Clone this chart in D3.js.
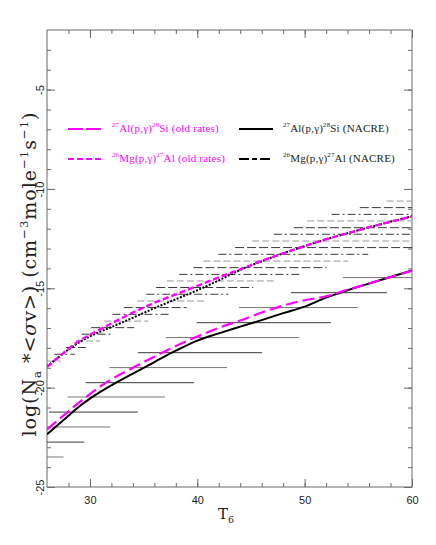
<!DOCTYPE html>
<html>
<head>
<meta charset="utf-8">
<script src="https://cdn.jsdelivr.net/npm/d3@7"></script>
<style>
	body { margin: 0; background: #fff; }
	svg { display: block; }
</style>
</head>
<body>
<div id="chartDiv"></div>
<script>

// temperature grid (T6) shared by the four rate curves
var temps = [26, 27, 28, 29, 30, 32, 34, 36, 38, 40, 42, 44, 46, 48, 50, 52, 54, 56, 58, 60];

// log rates
var alOld   = [-22.10, -21.65, -21.19, -20.74, -20.32, -19.58, -19.00, -18.44, -17.91, -17.43, -16.99, -16.62, -16.22, -15.87, -15.60, -15.40, -15.07, -14.76, -14.43, -14.12];
var alNacre = [-22.35, -21.88, -21.41, -20.95, -20.55, -19.88, -19.29, -18.71, -18.14, -17.63, -17.27, -16.93, -16.60, -16.25, -15.92, -15.47, -15.10, -14.76, -14.43, -14.10];
var mgOld   = [-18.96, -18.50, -18.05, -17.64, -17.34, -16.77, -16.22, -15.73, -15.30, -14.88, -14.45, -14.05, -13.62, -13.24, -12.88, -12.53, -12.23, -11.93, -11.65, -11.38];
var mgNacre = [-18.93, -18.50, -18.08, -17.72, -17.42, -16.95, -16.48, -16.00, -15.55, -15.10, -14.60, -14.08, -13.64, -13.24, -12.88, -12.53, -12.23, -11.93, -11.65, -11.38];

// horizontal uncertainty bars, 27Al(p,g) (solid)
var alBarLog = [-23.49, -22.74, -21.98, -21.23, -20.47, -19.75, -18.99, -18.24, -17.48, -16.73, -15.97, -15.22, -14.46];
var alBarLo  = [26.00, 26.00, 26.00, 26.20, 27.92, 29.60, 31.82, 34.47, 37.07, 39.95, 43.89, 48.73, 53.56];
var alBarHi  = [27.54, 29.47, 31.88, 34.46, 36.99, 39.70, 42.77, 46.03, 49.47, 52.45, 54.96, 57.66, 60.00];

// horizontal uncertainty bars, 26Mg(p,g) (dashed)
var mgBarLog = [-10.61, -10.94, -11.28, -11.61, -11.95, -12.28, -12.62, -12.95, -13.29, -13.63, -13.96, -14.30, -14.63,
                -14.96, -15.30, -15.64, -15.97, -16.31, -16.65, -16.98, -17.31, -17.65, -17.98, -18.32, -18.66];
var mgBarLo  = [57.63, 55.14, 52.51, 50.24, 49.00, 47.14, 45.13, 43.52, 41.96, 40.57, 39.64, 38.33, 37.16,
                36.17, 35.24, 34.40, 33.14, 32.10, 31.33, 30.12, 29.22, 28.70, 27.77, 26.68, 26.00];
var mgBarHi  = [60.00, 60.00, 60.00, 60.00, 60.00, 60.00, 60.00, 60.00, 55.92, 54.06, 52.05, 49.72, 47.40,
                45.22, 42.89, 40.73, 39.02, 37.38, 35.42, 34.12, 32.20, 30.96, 29.63, 28.60, 27.30];

// axes
var xDomain = [26, 60];
var yDomain = [-25, -2];
var xMajor = [30, 40, 50, 60];
var xMinor = d3.range(28, 60, 2);
var yMajor = [-25, -20, -15, -10, -5];
var yMinor = d3.range(-24, -2, 1);

;(function() {

	var margin = { top: 30, right: 24, bottom: 58, left: 47 };
	var width = 436;
	var height = 545;
	var magenta = "#ff00ff";

	var chart;
	var chartWidth;
	var chartHeight;

	init();

	function init() {
		chartWidth = width - margin.left - margin.right;
		chartHeight = height - margin.top - margin.bottom;

		initializeChart();
		createAxes();
		drawBars();
		drawCurves();
		drawLegend();
	}

	function initializeChart() {
		chart = d3.select("#chartDiv").append("svg")
			.attr("width", width)
			.attr("height", height);

		chart.append("defs").append("clipPath")
			.attr("id", "plotClip")
			.append("rect")
			.attr("width", chartWidth)
			.attr("height", chartHeight);

		chart.plotArea = chart.append("g")
			.attr("transform", "translate(" + margin.left + "," + margin.top + ")");

		chart.xScale = d3.scaleLinear().domain(xDomain).range([0, chartWidth]);
		chart.yScale = d3.scaleLinear().domain(yDomain).range([chartHeight, 0]);
	}

	// super/subscript helper, shifts with dy and then comes back
	function richText(sel, parts, size) {
		var shift = 0;
		parts.forEach(function(p) {
			var target = p[1] === "sup" ? -size * 0.42 : (p[1] === "sub" ? size * 0.28 : 0);
			sel.append("tspan")
				.attr("dy", target - shift)
				.style("font-size", (p[1] ? size * 0.62 : size) + "px")
				.style("font-style", p[2] ? "italic" : null)
				.text(p[0]);
			shift = target;
		});
	}

	function createAxes() {
		var axisColor = "#6a6a6a";
		var fmt = function(d) { return String(d); };

		function clean(g) { g.select(".domain").remove(); g.attr("color", axisColor); }

		// bottom
		chart.plotArea.append("g")
			.attr("transform", "translate(0," + chartHeight + ")")
			.call(d3.axisBottom(chart.xScale).tickValues(xMinor).tickSize(-4).tickFormat(""))
			.call(clean);
		chart.plotArea.append("g")
			.attr("class", "x axis")
			.attr("transform", "translate(0," + chartHeight + ")")
			.call(d3.axisBottom(chart.xScale).tickValues(xMajor).tickSize(-8).tickPadding(9).tickFormat(fmt))
			.call(clean);

		// top
		chart.plotArea.append("g")
			.call(d3.axisTop(chart.xScale).tickValues(xMinor).tickSize(-4).tickFormat(""))
			.call(clean);
		chart.plotArea.append("g")
			.call(d3.axisTop(chart.xScale).tickValues(xMajor).tickSize(-8).tickFormat(""))
			.call(clean);

		// left
		chart.plotArea.append("g")
			.call(d3.axisLeft(chart.yScale).tickValues(yMinor).tickSize(-4).tickFormat(""))
			.call(clean);
		chart.plotArea.append("g")
			.attr("class", "y axis")
			.call(d3.axisLeft(chart.yScale).tickValues(yMajor).tickSize(-8).tickFormat(fmt))
			.call(clean);

		// right
		chart.plotArea.append("g")
			.attr("transform", "translate(" + chartWidth + ",0)")
			.call(d3.axisRight(chart.yScale).tickValues(yMinor).tickSize(-4).tickFormat(""))
			.call(clean);
		chart.plotArea.append("g")
			.attr("transform", "translate(" + chartWidth + ",0)")
			.call(d3.axisRight(chart.yScale).tickValues(yMajor).tickSize(-8).tickFormat(""))
			.call(clean);

		chart.plotArea.selectAll(".x.axis text")
			.attr("fill", "#222")
			.style("font-family", "'Liberation Sans', sans-serif")
			.style("font-size", "11px");

		chart.plotArea.selectAll(".y.axis text")
			.attr("fill", "#222")
			.attr("transform", "rotate(-90)")
			.attr("x", 0)
			.attr("y", -3)
			.attr("dy", 0)
			.attr("text-anchor", "middle")
			.style("font-family", "'Liberation Sans', sans-serif")
			.style("font-size", "11px");

		// frame
		chart.plotArea.append("rect")
			.attr("width", chartWidth)
			.attr("height", chartHeight)
			.attr("fill", "none")
			.attr("stroke", axisColor)
			.attr("stroke-width", 1);

		// x label
		var xl = chart.append("text")
			.attr("x", margin.left + 179)
			.attr("y", margin.top + chartHeight + 32)
			.attr("text-anchor", "middle")
			.style("font-family", "'DejaVu Serif', serif")
			.style("fill", "#222");
		richText(xl, [["T", ""], ["6", "sub"]], 15);

		// y label, spread out to the width the original uses
		var yl = chart.append("text")
			.attr("transform", "translate(" + 36 + "," + 274 + ") rotate(-90)")
			.attr("text-anchor", "middle")
			.style("font-family", "'DejaVu Serif', serif")
			.style("fill", "#222");
		richText(yl, [
			["log(N", ""], ["a", "sub"], [" *<", ""], ["\u03c3", "", true], ["v>)  (cm", ""],
			["\u22123", "sup"], ["mole", ""], ["\u22121", "sup"], ["s", ""], ["\u22121", "sup"], [")", ""]
		], 19);
		var len = yl.node().getComputedTextLength();
		var nChars = yl.text().length;
		if (len < 326) yl.style("letter-spacing", ((326 - len) / nChars) + "px");
	}

	function drawBars() {
		var layer = chart.plotArea.append("g").attr("clip-path", "url(#plotClip)");

		layer.selectAll(".alBar")
			.data(alBarLog)
			.enter().append("line")
				.attr("class", "alBar")
				.attr("x1", function(d, i) { return chart.xScale(alBarLo[i]); })
				.attr("x2", function(d, i) { return chart.xScale(alBarHi[i]); })
				.attr("y1", function(d) { return chart.yScale(d); })
				.attr("y2", function(d) { return chart.yScale(d); })
				.attr("stroke", function(d, i) { return i % 2 ? "#3a3a3a" : "#777"; })
				.attr("stroke-width", 1);

		layer.selectAll(".mgBar")
			.data(mgBarLog)
			.enter().append("line")
				.attr("class", "mgBar")
				.attr("x1", function(d, i) { return chart.xScale(mgBarLo[i]); })
				.attr("x2", function(d, i) { return chart.xScale(mgBarHi[i]); })
				.attr("y1", function(d) { return chart.yScale(d); })
				.attr("y2", function(d) { return chart.yScale(d); })
				.attr("stroke", function(d, i) { return i % 3 === 0 ? "#9a9a9a" : "#3a3a3a"; })
				.attr("stroke-dasharray", function(d, i) { return i % 3 === 0 ? "7,3" : (i % 3 === 1 ? "9,3" : "8,3,2,3"); })
				.attr("stroke-width", 1);
	}

	function drawCurves() {
		var layer = chart.plotArea.append("g").attr("clip-path", "url(#plotClip)");
		var line = d3.line()
			.x(function(d) { return chart.xScale(d[0]); })
			.y(function(d) { return chart.yScale(d[1]); })
			.curve(d3.curveMonotoneX);

		var series = [
			{ vals: alNacre, color: "#000", dash: null, w: 2 },
			{ vals: mgNacre, color: "#000", dash: "2,1.5", w: 2 },
			{ vals: alOld, color: magenta, dash: "12,5", w: 2.2 },
			{ vals: mgOld, color: magenta, dash: "6,3", w: 2.4 }
		];

		layer.selectAll(".curve")
			.data(series)
			.enter().append("path")
				.attr("class", "curve")
				.attr("d", function(s) { return line(temps.map(function(t, i) { return [t, s.vals[i]]; })); })
				.attr("fill", "none")
				.attr("stroke", function(s) { return s.color; })
				.attr("stroke-width", function(s) { return s.w; })
				.attr("stroke-dasharray", function(s) { return s.dash; });
	}

	function drawLegend() {
		var items = [
			{ x: 68, y: 129, color: magenta, dash: "15,3", label: [["27", "sup"], ["Al(p,\u03b3)", ""], ["28", "sup"], ["Si (old rates)", ""]] },
			{ x: 68, y: 159, color: magenta, dash: "6,3", label: [["26", "sup"], ["Mg(p,\u03b3)", ""], ["27", "sup"], ["Al (old rates)", ""]] },
			{ x: 239, y: 129, color: "#000", dash: null, label: [["27", "sup"], ["Al(p,\u03b3)", ""], ["28", "sup"], ["Si (NACRE)", ""]] },
			{ x: 239, y: 159, color: "#000", dash: "10,3,5,3", label: [["26", "sup"], ["Mg(p,\u03b3)", ""], ["27", "sup"], ["Al (NACRE)", ""]] }
		];

		items.forEach(function(it) {
			chart.append("line")
				.attr("x1", it.x)
				.attr("x2", it.x + 34)
				.attr("y1", it.y)
				.attr("y2", it.y)
				.attr("stroke", it.color)
				.attr("stroke-width", 2)
				.attr("stroke-dasharray", it.dash);

			var t = chart.append("text")
				.attr("x", it.x + 44)
				.attr("y", it.y + 3)
				.style("font-family", "'Liberation Serif', serif")
				.style("letter-spacing", "0.2px")
				.style("fill", it.color === "#000" ? "#222" : it.color);
			richText(t, it.label, 11);
		});
	}

})();
</script>
</body>
</html>
